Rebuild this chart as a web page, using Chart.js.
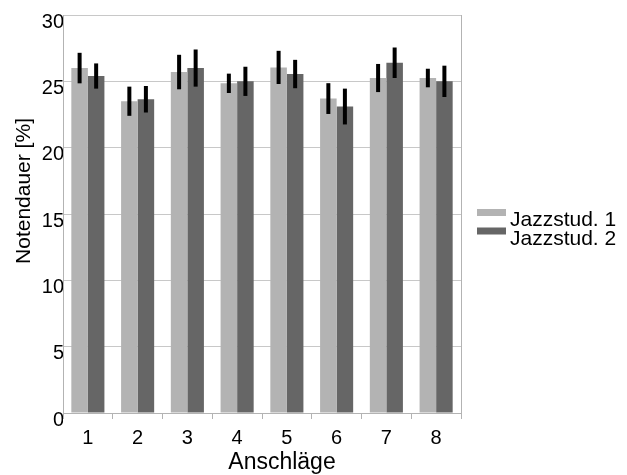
<!DOCTYPE html>
<html>
<head>
<meta charset="utf-8">
<script src="https://cdn.jsdelivr.net/npm/chart.js@4/dist/chart.umd.min.js"></script>
<style>
  html, body { margin: 0; padding: 0; background: #ffffff; }
  #wrap { width: 627px; height: 475px; }
</style>
</head>
<body>
<div id="wrap"><canvas id="c" width="627" height="475"></canvas></div>
<script>
// Note durations per stroke (Anschlag), mean and standard deviation
const categories = ['1', '2', '3', '4', '5', '6', '7', '8'];
const seriesNames = ['Jazzstud. 1', 'Jazzstud. 2'];
const jazz1 = [26.0, 23.5, 25.7, 24.85, 26.05, 23.7, 25.25, 25.25];
const jazz1Err = [1.15, 1.1, 1.3, 0.73, 1.25, 1.16, 1.06, 0.7];
const jazz2 = [25.4, 23.65, 26.0, 25.0, 25.55, 23.1, 26.4, 25.0];
const jazz2Err = [0.95, 1.0, 1.4, 1.1, 1.07, 1.35, 1.15, 1.18];
const yTicks = [0, 5, 10, 15, 20, 25, 30];
const xTitle = 'Anschläge';
const yTitle = 'Notendauer [%]';

const FONT = '"Liberation Sans", Arial, sans-serif';
const colors = ['#b3b3b3', '#666666'];

// vertical error bars centred on each bar
const errorBars = {
  id: 'errorBars',
  afterDatasetsDraw(chart) {
    const ctx = chart.ctx;
    const y = chart.scales.y;
    ctx.save();
    ctx.strokeStyle = '#000000';
    ctx.lineWidth = 4;
    ctx.lineCap = 'butt';
    chart.data.datasets.forEach((ds, i) => {
      const meta = chart.getDatasetMeta(i);
      meta.data.forEach((bar, j) => {
        const v = ds.data[j], e = ds.errors[j];
        ctx.beginPath();
        ctx.moveTo(bar.x, y.getPixelForValue(v + e));
        ctx.lineTo(bar.x, y.getPixelForValue(v - e));
        ctx.stroke();
      });
    });
    ctx.restore();
  }
};

// plot frame, axis titles and the legend at the right
const decorations = {
  id: 'decorations',
  beforeDatasetsDraw(chart) {
    const { ctx, chartArea } = chart;
    ctx.save();
    ctx.strokeStyle = '#b3b3b3';
    ctx.lineWidth = 1;
    ctx.beginPath();
    ctx.moveTo(Math.round(chartArea.right) + 0.5, chartArea.top);
    ctx.lineTo(Math.round(chartArea.right) + 0.5, chartArea.bottom);
    ctx.stroke();
    ctx.restore();
  },
  afterDraw(chart) {
    const { ctx, chartArea } = chart;
    ctx.save();
    ctx.fillStyle = '#000000';
    ctx.textBaseline = 'alphabetic';

    // x axis title
    ctx.font = '23px ' + FONT;
    ctx.textAlign = 'center';
    ctx.fillText(xTitle, (chartArea.left + chartArea.right) / 2 + 20, 469);

    // y axis title
    ctx.font = '21px ' + FONT;
    ctx.save();
    ctx.translate(30, (chartArea.top + chartArea.bottom) / 2 - 23);
    ctx.rotate(-Math.PI / 2);
    ctx.fillText(yTitle, 0, 0);
    ctx.restore();

    // legend
    ctx.font = '21px ' + FONT;
    ctx.textAlign = 'left';
    chart.data.datasets.forEach((ds, i) => {
      const base = 226 + i * 18.5;
      ctx.fillStyle = ds.backgroundColor;
      ctx.fillRect(477, base - 17, 29, 7);
      ctx.fillStyle = '#000000';
      ctx.fillText(ds.label, 510, base);
    });
    ctx.restore();
  }
};

new Chart(document.getElementById('c'), {
  type: 'bar',
  data: {
    labels: categories,
    datasets: [
      { label: seriesNames[0], data: jazz1, errors: jazz1Err, backgroundColor: colors[0],
        barPercentage: 1, categoryPercentage: 0.665 },
      { label: seriesNames[1], data: jazz2, errors: jazz2Err, backgroundColor: colors[1],
        barPercentage: 1, categoryPercentage: 0.665 }
    ]
  },
  options: {
    responsive: false,
    devicePixelRatio: 1,
    animation: false,
    layout: { padding: { left: 0, top: 15, right: 166, bottom: 0 } },
    plugins: { legend: { display: false }, tooltip: { enabled: false } },
    scales: {
      x: {
        grid: { drawOnChartArea: false, drawTicks: true, tickLength: 6, color: '#b3b3b3', offset: true },
        border: { color: '#b3b3b3' },
        ticks: { color: '#000000', font: { size: 20, family: FONT }, padding: 7, maxRotation: 0 },
        afterFit(scale) { scale.height = 62; }
      },
      y: {
        min: 0,
        max: 30,
        afterBuildTicks(scale) { scale.ticks = yTicks.map(v => ({ value: v })); },
        grid: { color: '#c8c8c8', drawTicks: false },
        border: { color: '#b3b3b3' },
        ticks: { color: '#000000', font: { size: 20, family: FONT }, padding: -1, labelOffset: 7 },
        afterFit(scale) { scale.width = 63; }
      }
    }
  },
  plugins: [errorBars, decorations]
});
</script>
</body>
</html>
